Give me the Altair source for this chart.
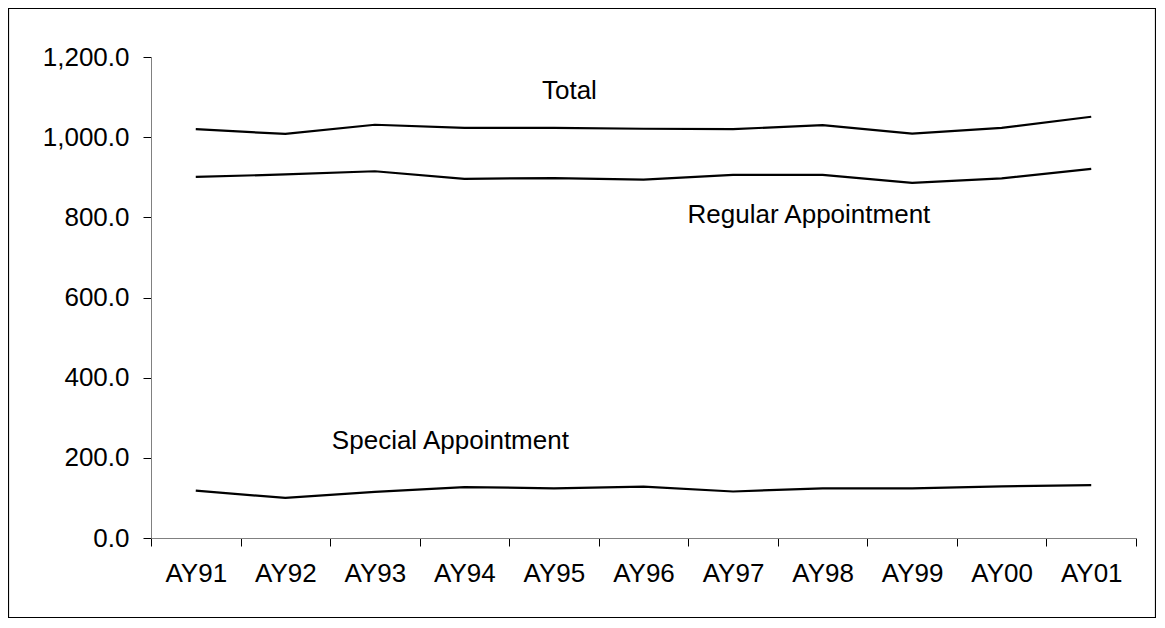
import altair as alt
import pandas as pd

years = ["AY91", "AY92", "AY93", "AY94", "AY95", "AY96", "AY97", "AY98", "AY99", "AY00", "AY01"]
total = [1020, 1008, 1031, 1023, 1023, 1021, 1020, 1030, 1009, 1023, 1051]
regular = [901, 907, 915, 896, 898, 894, 906, 906, 886, 897, 921]
special = [118, 100, 115, 127, 124, 128, 116, 124, 124, 129, 132]

label_text = ["Total", "Regular Appointment", "Special Appointment"]
label_year = ["AY95", "AY96", "AY93"]
label_value = [1115, 805, 243]
label_dx = [-12, 44, -43]

rows = []
for name, vals in [("Total", total), ("Regular Appointment", regular), ("Special Appointment", special)]:
    for y, v in zip(years, vals):
        rows.append({"year": y, "value": v, "series": name})
df = pd.DataFrame(rows)
labels = pd.DataFrame({"year": label_year, "value": label_value, "text": label_text, "dx": label_dx})

FONT = "Liberation Sans"
W, H = 985, 481

xscale = alt.Scale(type="band", paddingInner=0, paddingOuter=0)
xaxis = alt.Axis(
    title=None, tickBand="extent", labelAngle=0, grid=False,
    domainColor="#808080", tickColor="black", tickSize=8,
    labelFontSize=26, labelFont=FONT, labelColor="black", labelPadding=14,
)
yscale = alt.Scale(domain=[0, 1200], nice=False)
yaxis = alt.Axis(
    title=None, values=[0, 200, 400, 600, 800, 1000, 1200], format=",.1f", grid=False,
    domainColor="#808080", tickColor="black", tickSize=8,
    labelFontSize=26, labelFont=FONT, labelColor="black", labelPadding=14,
)

lines = alt.Chart(df).mark_line(color="black", strokeWidth=2.2).encode(
    x=alt.X("year:O", sort=years, bandPosition=0.5, scale=xscale, axis=xaxis),
    y=alt.Y("value:Q", scale=yscale, axis=yaxis),
    detail="series:N",
)

texts = []
for i in range(len(label_text)):
    sub = labels.iloc[[i]]
    texts.append(
        alt.Chart(sub).mark_text(
            align="left", baseline="middle", fontSize=26, font=FONT, color="black", dx=int(label_dx[i])
        ).encode(
            x=alt.X("year:O", sort=years, bandPosition=0.5, scale=xscale, axis=xaxis),
            y=alt.Y("value:Q", scale=yscale, axis=yaxis),
            text="text:N",
        )
    )

one = pd.DataFrame({"a": [0]})
border = alt.Chart(one).mark_rect(
    fillOpacity=0, stroke="black", strokeWidth=1.2
).encode(
    x=alt.value(-142.5), x2=alt.value(1004.5), y=alt.value(-48.5), y2=alt.value(560.5)
)
# white overlays hiding the stray frame at the top and right edges of the plot area
cover_top = alt.Chart(one).mark_rule(color="white", strokeWidth=3).encode(
    x=alt.value(1.5), x2=alt.value(W + 2), y=alt.value(-0.5)
)
cover_right = alt.Chart(one).mark_rule(color="white", strokeWidth=3).encode(
    x=alt.value(W + 0.5), y=alt.value(-2), y2=alt.value(H - 1.5)
)

chart = alt.layer(lines, *texts, border, cover_top, cover_right).properties(
    width=W, height=H,
    background="white",
    padding={"left": 143, "top": 49, "right": 20, "bottom": 80},
    autosize=alt.AutoSizeParams(type="none"),
).configure_view(strokeWidth=0, strokeOpacity=0).configure_axis(grid=False)

chart.save("out.html", embed_options={"renderer": "svg", "actions": False})
